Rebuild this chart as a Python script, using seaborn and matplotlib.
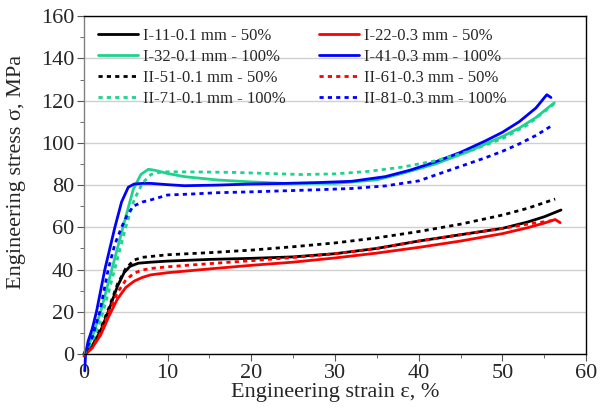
import matplotlib
matplotlib.use("Agg")

import matplotlib.pyplot as plt
import seaborn as sns
import pandas as pd

# strain (%) / stress (MPa)
I11_x = [0, 1, 2, 3, 4, 4.8, 5.5, 6.5, 8, 10, 15, 20, 25, 30, 35, 40, 45, 50, 53, 55, 57]
I11_y = [0, 4, 11, 21, 32, 38.5, 41.5, 43, 43.5, 44, 44.8, 45.3, 46, 47.5, 50, 53.5, 56.5, 59.5, 62.5, 65, 68.2]

I22_x = [0, 1, 2, 3, 4, 5, 6, 7, 8, 10, 15, 20, 25, 30, 35, 40, 45, 50, 53, 55, 56.3, 56.9]
I22_y = [-1, 3, 9, 18, 26, 31.5, 34.5, 36.3, 37.5, 38.5, 40.3, 42, 43.5, 45.5, 47.8, 50.5, 53.5, 57, 59.8, 62, 63.7, 62.2]

I32_x = [0, 1, 2, 3, 4, 5, 5.9, 6.8, 7.7, 8.5, 10, 12, 16, 20, 24, 30, 35, 38, 42, 46, 50, 52, 54, 56.2]
I32_y = [0, 8, 20, 35, 50, 65, 78, 85, 87.5, 87, 85.5, 84, 82.4, 81.5, 80.8, 80.8, 82.5, 85.5, 90, 96, 103, 107, 112, 119]

I41_x = [0.1, 0.2, 0.5, 1, 1.5, 2.5, 3.7, 4.5, 5.3, 6, 7, 8, 10, 12, 16, 20, 24, 28, 32, 36, 39, 42, 45, 48, 50, 52, 54, 55.3, 55.8]
I41_y = [-8, 0, 6, 12, 20, 40, 60, 72, 79, 80.5, 80.8, 80.8, 80.2, 79.7, 80, 80.5, 80.8, 81.2, 81.8, 84, 87.1, 91, 95.5, 101, 105, 110, 116.5, 122.8, 121.5]

II51_x = [0, 1, 2, 3, 4, 5, 6, 7, 8, 10, 15, 20, 25, 30, 35, 40, 45, 50, 53, 56.3]
II51_y = [0, 5, 12, 22, 33, 40.5, 44.5, 45.8, 46.2, 47, 48, 49.2, 50.8, 52.6, 55, 58, 61.5, 65.8, 69, 73.4]

II61_x = [0, 1, 2, 3, 4, 5, 6, 7, 8, 10, 15, 20, 25, 30, 35, 40, 45, 50, 53, 56.5]
II61_y = [-1, 3, 10, 20, 29, 35, 38.3, 39.8, 40.5, 41.3, 42.8, 44.2, 45.7, 47.5, 50, 53.5, 56.5, 59.5, 61.5, 63.5]

II71_x = [0, 1, 2, 3, 4, 5, 6, 7, 8, 9, 10, 14, 18, 22, 26, 30, 34, 38, 42, 46, 50, 53, 56.2]
II71_y = [0, 6, 16, 30, 45, 60, 73, 81, 85, 86, 86.3, 86.2, 86, 85.5, 85, 85.3, 86.5, 88.5, 91.5, 96, 102, 108.5, 118.5]

II81_x = [0, 1, 1.9, 2.9, 3.7, 4.5, 5.2, 5.9, 7, 8, 10, 13, 16, 20, 24, 28, 32, 36, 40, 44, 48, 50, 52, 54, 55.8]
II81_y = [0, 8, 20, 40, 52, 60, 66, 70, 72, 73, 75.3, 75.8, 76.4, 76.8, 77.3, 77.8, 78.4, 79.6, 82, 87.5, 93, 96, 99.5, 103.5, 107.9]

labels = ["I-11-0.1 mm - 50%", "I-22-0.3 mm - 50%", "I-32-0.1 mm - 100%", "I-41-0.3 mm - 100%",
          "II-51-0.1 mm - 50%", "II-61-0.3 mm - 50%", "II-71-0.1 mm - 100%", "II-81-0.3 mm - 100%"]
series = [(I11_x, I11_y), (I22_x, I22_y), (I32_x, I32_y), (I41_x, I41_y),
          (II51_x, II51_y), (II61_x, II61_y), (II71_x, II71_y), (II81_x, II81_y)]
colors = ["black", "#ff0000", "#1dd38e", "#0000ff", "black", "#ff0000", "#1dd38e", "#0000ff"]

rows = []
for lab, (xs, ys) in zip(labels, series):
    for i, (x, y) in enumerate(zip(xs, ys)):
        rows.append({"strain": x, "stress": y, "sample": lab, "order": i})
df = pd.DataFrame(rows)

sns.set_style("white")
plt.rcParams["font.family"] = ["Liberation Serif", "DejaVu Serif"]

fig, ax = plt.subplots(figsize=(6.08, 4.15), dpi=100)
fig.subplots_adjust(left=0.138, right=0.964, top=0.961, bottom=0.147)

for k, lab in enumerate(labels):
    d = df[df["sample"] == lab].sort_values("order")
    ls = "-" if lab.startswith("I-") else (0, (1.5, 1.5))
    sns.lineplot(data=d, x="strain", y="stress", sort=False, color=colors[k], lw=2,
                 linestyle=ls, label=lab, ax=ax, clip_on=False)

ax.set_xlim(0, 60)
ax.set_ylim(0, 160)
ax.set_xticks(range(0, 61, 10))
ax.set_yticks(range(0, 161, 20))
ax.set_xticks(range(5, 60, 10), minor=True)
ax.set_yticks(range(10, 160, 20), minor=True)
ax.yaxis.grid(True, color="#d0d0d0", lw=1)
ax.set_axisbelow(True)
ax.tick_params(axis="both", which="major", direction="out", length=5, labelsize=16, pad=2,
               bottom=True, left=True, color="#555555")
ax.tick_params(axis="both", which="minor", direction="out", length=3, bottom=True, left=True,
               color="#555555")
for s in ["top", "right", "bottom"]:
    ax.spines[s].set_color("black")
    ax.spines[s].set_linewidth(1)
ax.spines["left"].set_color("#808080")
ax.spines["left"].set_linewidth(1)

ax.set_xlabel("Engineering strain ε, %", fontsize=16, labelpad=0)
ax.set_ylabel("Engineering stress σ, MPa", fontsize=16)
ax.yaxis.set_label_coords(-0.115, 0.54)

# legend reads row by row in the reference
handles, labs = ax.get_legend_handles_labels()
order = [0, 2, 4, 6, 1, 3, 5, 7]
ax.legend([handles[i] for i in order], [labs[i] for i in order], ncol=2, loc="upper left",
          bbox_to_anchor=(0.004, 1.0), frameon=False, fontsize=12,
          handlelength=2.4, handletextpad=0.3, columnspacing=2.0, labelspacing=0.3,
          borderaxespad=0.3)

plt.savefig("out.png", dpi=100)
plt.close()
